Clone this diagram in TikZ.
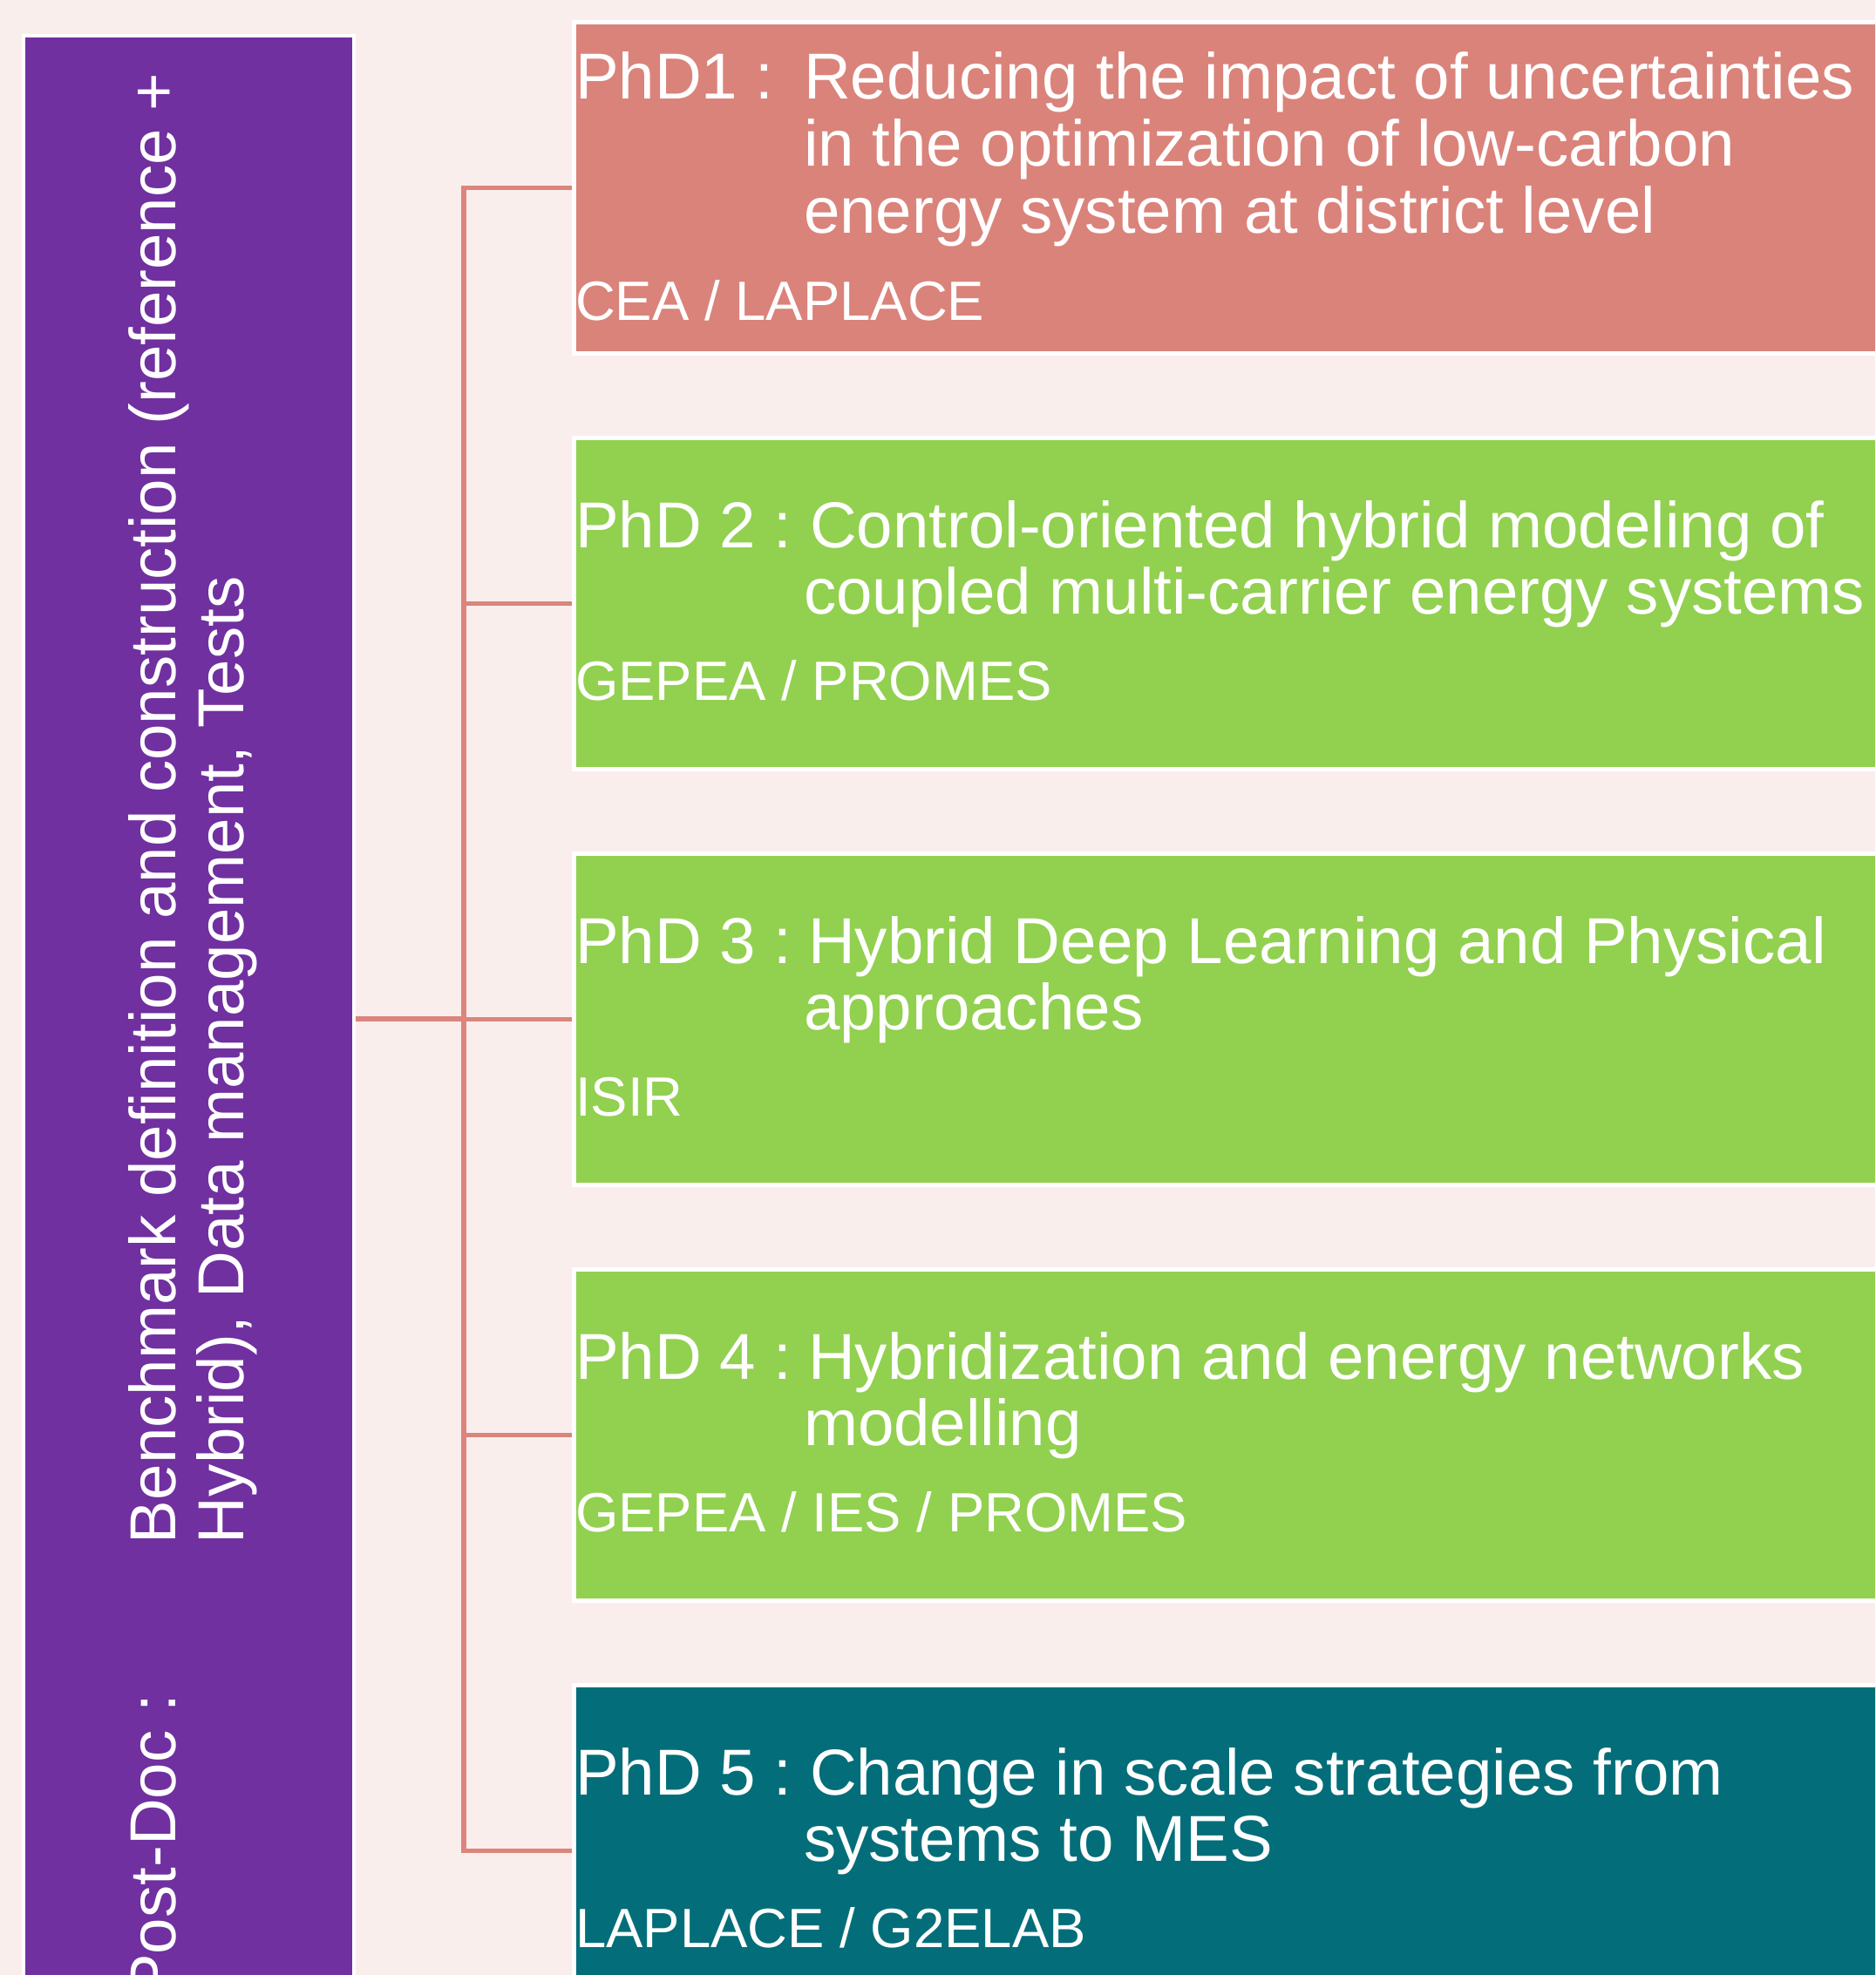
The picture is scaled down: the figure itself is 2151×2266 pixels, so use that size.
\documentclass[tikz,border=0pt]{standalone}
\usepackage{fontspec}
\setmainfont{Liberation Sans}
\definecolor{bgpink}{HTML}{FAEEED}
\definecolor{postpurple}{HTML}{7030A0}
\definecolor{salmonbox}{HTML}{DA837A}
\definecolor{greenbox}{HTML}{92D050}
\definecolor{tealbox}{HTML}{036E7A}
\definecolor{connline}{HTML}{DB857C}
\newcommand\mainsz{\fontsize{74.5}{76}\selectfont}
\newcommand\subsz{\fontsize{63.5}{66}\selectfont}
\tikzset{
  phdbox/.style={draw=white, line width=5pt, rectangle, inner sep=0pt, outer sep=0pt,
    minimum width=1600pt, minimum height=380pt, anchor=north west},
  postbox/.style={draw=white, line width=4.5pt, rectangle, inner sep=0pt, outer sep=0pt,
    fill=postpurple, minimum width=379pt, minimum height=2256pt, anchor=north west},
  conn/.style={draw=connline, line width=5.5pt, shorten <=2pt, shorten >=2.5pt},
  txt/.style={text=white, inner sep=0pt, outer sep=0pt, anchor=base west, font=\mainsz},
  subtxt/.style={txt, font=\subsz},
}
\begin{document}
\begin{tikzpicture}[x=1pt, y=-1pt]
\useasboundingbox (0,0) rectangle (2151,2266);
\clip (0,0) rectangle (2151,2266);
\fill[bgpink] (0,0) rectangle (2151,2266);

% boxes
\node[postbox] (pd) at (26.75,41) {};
\node[phdbox, fill=salmonbox] (p1) at (658,25.5) {};
\node[phdbox, fill=greenbox]  (p2) at (658,502.5) {};
\node[phdbox, fill=greenbox]  (p3) at (658,979.5) {};
\node[phdbox, fill=greenbox]  (p4) at (658,1456.5) {};
\node[phdbox, fill=tealbox]   (p5) at (658,1933.5) {};

% connectors
\foreach \b in {p1,p2,p3,p4,p5}{
  \draw[conn] (pd.east) -- ++(126,0) |- (\b.west);
}

% post-doc text (rotated)
\node[txt, rotate=90, anchor=base east] (pdA) at (201.7,1944) {Post-Doc :};
\node[txt, rotate=90] (pdB) at (201.7,1771) {Benchmark definition and construction (reference +};
\node[txt, rotate=90] (pdC) at (279,1771) {Hybrid), Data management, Tests};

% PhD1
\node[txt] (t1a) at (660,114) {PhD1 :};
\node[txt] (t1b) at (922,114) {Reducing the impact of uncertainties};
\node[txt] (t1c) at (922,190.5) {in the optimization of low-carbon};
\node[txt] (t1d) at (922,267) {energy system at district level};
\node[subtxt] (s1) at (660,367) {CEA / LAPLACE};

% PhD2
\node[txt] (t2a) at (660,628) {PhD 2 :};
\node[txt] (t2h) at (929,628) {Control-oriented hybrid modeling of};
\node[txt] (t2b) at (922,704.5) {coupled multi-carrier energy systems};
\node[subtxt] (s2) at (660,803) {GEPEA / PROMES};

% PhD3
\node[txt] (t3a) at (660,1105) {PhD 3 :};
\node[txt] (t3h) at (927,1105) {Hybrid Deep Learning and Physical};
\node[txt] (t3b) at (922,1181.5) {approaches};
\node[subtxt] (s3) at (660,1280) {ISIR};

% PhD4
\node[txt] (t4a) at (660,1582) {PhD 4 :};
\node[txt] (t4h) at (927,1582) {Hybridization and energy networks};
\node[txt] (t4b) at (922,1658.5) {modelling};
\node[subtxt] (s4) at (660,1757) {GEPEA / IES / PROMES};

% PhD5
\node[txt] (t5a) at (660,2059) {PhD 5 :};
\node[txt] (t5h) at (929,2059) {Change in scale strategies from};
\node[txt] (t5b) at (922,2135.5) {systems to MES};
\node[subtxt] (s5) at (660,2234) {LAPLACE / G2ELAB};
\end{tikzpicture}
\end{document}
